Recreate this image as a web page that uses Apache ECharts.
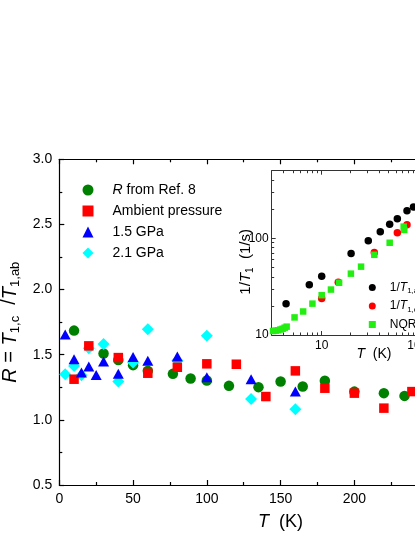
<!DOCTYPE html>
<html>
<head>
<meta charset="utf-8">
<script src="https://cdn.jsdelivr.net/npm/echarts@6/dist/echarts.min.js"></script>
<style>
  html, body { margin: 0; padding: 0; background: #fff; }
  #chart { width: 415px; height: 537px; }
</style>
</head>
<body>
<div id="chart"></div>
<script>
// main panel: R = T1,c / T1,ab versus T (K)
var tRef8 = [10, 30, 40, 50, 60, 77, 89, 100, 115, 135, 150, 165, 180, 200, 220, 234];
var rRef8 = [1.685, 1.51, 1.46, 1.42, 1.376, 1.353, 1.317, 1.302, 1.261, 1.251, 1.294, 1.256, 1.30, 1.217, 1.205, 1.184];

var tAmbient = [10, 20, 40, 60, 80, 100, 120, 140, 160, 180, 200, 220, 239];
var rAmbient = [1.312, 1.568, 1.478, 1.358, 1.404, 1.43, 1.427, 1.179, 1.376, 1.243, 1.205, 1.09, 1.217];

var t15GPa = [4, 10, 15, 20, 25, 30, 40, 50, 60, 80, 100, 130, 160];
var r15GPa = [1.655, 1.466, 1.363, 1.409, 1.345, 1.447, 1.353, 1.483, 1.453, 1.486, 1.328, 1.312, 1.217];

var t21GPa = [4, 10, 15, 20, 30, 40, 50, 60, 80, 100, 130, 160];
var r21GPa = [1.351, 1.414, 1.343, 1.55, 1.583, 1.294, 1.44, 1.696, 1.455, 1.645, 1.161, 1.082];

// inset: 1/T1 (1/s) versus T (K), log-log
var tAb = [4.24, 7.42, 10, 20.3, 30.7, 41, 51.4, 61.8, 78, 91.2];
var vAb = [21.1, 33.0, 40.4, 69.7, 94.4, 117, 140, 159, 193, 211];

var tC = [10, 14.9, 35.5, 61.8, 78];
var vC = [23.8, 35.1, 71.4, 114, 138];

var tNqr = [3.1, 3.3, 3.5, 3.7, 3.9, 4.1, 4.3, 5.2, 6.4, 8.0, 10, 12.5, 15.2, 20.2, 25.8, 35.5, 51.4, 72, 73];
var vNqr = [11.0, 11.1, 11.2, 11.4, 11.6, 11.9, 12.2, 15.2, 17.5, 21.1, 25.8, 29.5, 34.7, 43.1, 50.9, 67.5, 89.9, 132, 122];

// log axis ticks of the inset
var insetXMajor = [10, 100];
var insetXMinor = [4, 5, 6, 7, 8, 9, 20, 30, 40, 50, 60, 70, 80, 90, 200];
var insetYMajor = [10, 100];
var insetYMinor = [20, 30, 40, 50, 60, 70, 80, 90, 200, 300, 400];

var FONT = '"Liberation Sans", Arial, sans-serif';

function pairs(xs, ys) {
    return xs.map(function (x, i) { return [x, ys[i]]; });
}

var lineBlack = {color: '#000', width: 1.2};
var lineInset = {color: '#333', width: 1};

function mainX(pos, withLabel) {
    return {
        type: 'value', gridIndex: 0, position: pos,
        min: 0, max: 300, interval: 50,
        name: withLabel ? '{i|T}  (K)' : '',
        nameLocation: 'middle', nameGap: 28,
        nameTextStyle: {
            fontSize: 18, color: '#000', fontFamily: FONT,
            rich: {i: {fontSize: 18, fontStyle: 'italic', fontFamily: FONT, color: '#000'}}
        },
        axisLine: {show: true, onZero: false, lineStyle: lineBlack},
        axisTick: {show: true, inside: true, length: 5, lineStyle: lineBlack},
        minorTick: {show: true, splitNumber: 2, length: 3, lineStyle: lineBlack},
        axisLabel: {show: withLabel, fontSize: 14, color: '#000', fontFamily: FONT, margin: 7},
        splitLine: {show: false}
    };
}

function insetX(pos, major, withLabel) {
    return {
        type: 'log', logBase: 10, gridIndex: 1, position: pos,
        min: 3, max: 200,
        name: withLabel ? '{i|T}  (K)' : '',
        nameLocation: 'middle', nameGap: 12, nameMoveOverlap: false,
        nameTextStyle: {
            fontSize: 14, color: '#000', fontFamily: FONT, padding: [0, 0, 0, 30],
            rich: {i: {fontSize: 14, fontStyle: 'italic', fontFamily: FONT, color: '#000'}}
        },
        axisLine: {show: major, onZero: false, lineStyle: lineInset},
        axisTick: {show: true, inside: true, length: major ? 4 : 2.5,
            customValues: major ? insetXMajor : insetXMinor, lineStyle: lineInset},
        axisLabel: {show: withLabel, fontSize: 12, color: '#000', fontFamily: FONT, margin: 5,
            customValues: insetXMajor},
        splitLine: {show: false}
    };
}

function insetY(major) {
    return {
        type: 'log', logBase: 10, gridIndex: 1, position: 'left',
        min: 10, max: 500,
        name: major ? '1/{i|T}{s|1}  (1/s)' : '',
        nameLocation: 'middle', nameGap: 16, nameMoveOverlap: false,
        nameTextStyle: {
            fontSize: 15, color: '#000', fontFamily: FONT, padding: [0, 18, 0, 0],
            rich: {
                i: {fontSize: 15, fontStyle: 'italic', fontFamily: FONT, color: '#000'},
                s: {fontSize: 10, fontFamily: FONT, color: '#000', padding: [9, 0, 0, 0]}
            }
        },
        axisLine: {show: major, onZero: false, lineStyle: lineInset},
        axisTick: {show: true, inside: true, length: major ? 4 : 2.5,
            customValues: major ? insetYMajor : insetYMinor, lineStyle: lineInset},
        axisLabel: {show: major, fontSize: 12, color: '#000', fontFamily: FONT, margin: 3,
            customValues: insetYMajor},
        splitLine: {show: false}
    };
}

var option = {
    animation: false,
    backgroundColor: '#fff',
    textStyle: {fontFamily: FONT},
    grid: [
        {left: 59.3, top: 159.3, right: -86.9, bottom: 52, containLabel: false, outerBoundsMode: 'none'},
        {left: 271.7, top: 170.7, right: -31.1, bottom: 202, containLabel: false, outerBoundsMode: 'none'}
    ],
    legend: [
        {
            orient: 'vertical', left: 82.5, top: 182, padding: 0,
            itemWidth: 11, itemHeight: 11, itemGap: 5,
            data: ['R from Ref. 8', 'Ambient pressure', '1.5 GPa', '2.1 GPa'],
            formatter: function (name) {
                if (name === 'R from Ref. 8') return '{g|}{i|R} from Ref. 8';
                return '{g|}' + name;
            },
            textStyle: {
                fontSize: 14, color: '#000', fontFamily: FONT, lineHeight: 16,
                rich: {
                    g: {width: 14},
                    i: {fontSize: 14, fontStyle: 'italic', fontFamily: FONT, color: '#000', lineHeight: 16}
                }
            }
        },
        {
            orient: 'vertical', left: 368.8, top: 280.5, padding: 0,
            itemWidth: 7, itemHeight: 7, itemGap: 4,
            data: ['ab', 'c', 'NQR'],
            formatter: function (name) {
                if (name === 'ab') return '{g|}1/{i|T}{s|1,ab}';
                if (name === 'c') return '{g|}1/{i|T}{s|1,c}';
                return '{g|}' + name;
            },
            textStyle: {
                fontSize: 12, color: '#000', fontFamily: FONT, lineHeight: 14,
                rich: {
                    g: {width: 9},
                    i: {fontSize: 12, fontStyle: 'italic', fontFamily: FONT, color: '#000'},
                    s: {fontSize: 8, fontFamily: FONT, color: '#000', padding: [7, 0, 0, 0]}
                }
            }
        }
    ],
    xAxis: [
        mainX('bottom', true),
        mainX('top', false),
        insetX('bottom', true, true),
        insetX('bottom', false, false),
        insetX('top', true, false),
        insetX('top', false, false)
    ],
    yAxis: [
        {
            type: 'value', gridIndex: 0, position: 'left',
            min: 0.5, max: 3.0, interval: 0.5,
            name: '{i|R} = {i|T}{s|1,c}  /{i|T}{s|1,ab}',
            nameLocation: 'middle', nameGap: 37,
            nameTextStyle: {
                fontSize: 20, color: '#000', fontFamily: FONT,
                rich: {
                    i: {fontSize: 20, fontStyle: 'italic', fontFamily: FONT, color: '#000'},
                    s: {fontSize: 13, fontFamily: FONT, color: '#000', padding: [11, 0, 0, 0]}
                }
            },
            axisLine: {show: true, onZero: false, lineStyle: lineBlack},
            axisTick: {show: true, inside: true, length: 5, lineStyle: lineBlack},
            minorTick: {show: true, splitNumber: 2, length: 3, lineStyle: lineBlack},
            axisLabel: {fontSize: 14, color: '#000', fontFamily: FONT, margin: 7,
                formatter: function (v) { return v.toFixed(1); }},
            splitLine: {show: false}
        },
        insetY(true),
        insetY(false)
    ],
    series: [
        {name: 'R from Ref. 8', type: 'scatter', xAxisIndex: 0, yAxisIndex: 0,
            symbol: 'circle', symbolSize: 10.5, itemStyle: {color: '#008000', opacity: 1},
            data: pairs(tRef8, rRef8)},
        {name: '2.1 GPa', type: 'scatter', xAxisIndex: 0, yAxisIndex: 0,
            symbol: 'diamond', symbolSize: 12, itemStyle: {color: '#00ffff', opacity: 1},
            data: pairs(t21GPa, r21GPa)},
        {name: 'Ambient pressure', type: 'scatter', xAxisIndex: 0, yAxisIndex: 0,
            symbol: 'rect', symbolSize: 9.5, itemStyle: {color: '#ff0000', opacity: 1},
            data: pairs(tAmbient, rAmbient)},
        {name: '1.5 GPa', type: 'scatter', xAxisIndex: 0, yAxisIndex: 0,
            symbol: 'triangle', symbolSize: [11, 10], itemStyle: {color: '#0000ff', opacity: 1},
            data: pairs(t15GPa, r15GPa)},

        {name: 'ab', type: 'scatter', xAxisIndex: 2, yAxisIndex: 1,
            symbol: 'circle', symbolSize: 7.5, itemStyle: {color: '#000', opacity: 1},
            data: pairs(tAb, vAb)},
        {name: 'c', type: 'scatter', xAxisIndex: 2, yAxisIndex: 1,
            symbol: 'circle', symbolSize: 7.5, itemStyle: {color: '#ff0000', opacity: 1},
            data: pairs(tC, vC)},
        {name: 'NQR', type: 'scatter', xAxisIndex: 2, yAxisIndex: 1,
            symbol: 'rect', symbolSize: 6.5, itemStyle: {color: '#22ee11', opacity: 1},
            data: pairs(tNqr, vNqr)}
    ]
};

var chart = echarts.init(document.getElementById('chart'), null, {renderer: 'canvas'});
chart.setOption(option);
</script>
</body>
</html>
